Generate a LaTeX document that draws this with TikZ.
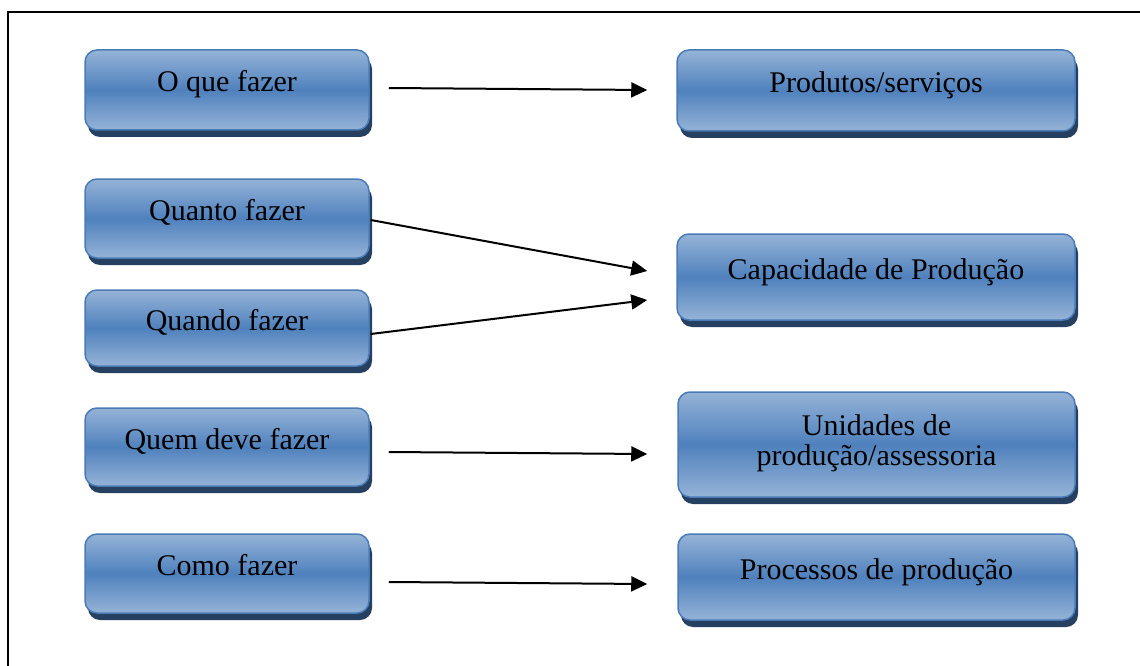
\documentclass[tikz,border=0pt]{standalone}
\usepackage{fontspec}
\setmainfont{Liberation Serif}
\usetikzlibrary{arrows.meta,shadows}
\definecolor{boxlight}{HTML}{95B3D7}
\definecolor{boxdark}{HTML}{4F81BD}
\definecolor{boxedge}{HTML}{4A7BB7}
\definecolor{boxshadow}{HTML}{254061}
\tikzset{
  bluebox/.style={draw=boxedge, line width=1.5pt, rounded corners=12pt,
    top color=boxlight, bottom color=boxlight, middle color=boxdark,
    drop shadow={shadow xshift=3pt, shadow yshift=-7pt, fill=boxshadow, opacity=1},
    inner sep=0pt, align=center, text height=21pt, text depth=17pt,
    font=\fontsize{30}{30}\selectfont},
  arr/.style={line width=2pt, -{Triangle[length=16pt,width=15pt]}},
  frameline/.style={line width=2pt}
}
\begin{document}
\begin{tikzpicture}[x=1pt,y=-1pt]
\useasboundingbox (0,0) rectangle (1140,666);
\draw[frameline] (8,700) -- (8,12) -- (1150,12);
% left column
\node[bluebox, minimum width=284pt, minimum height=80pt] (b1) at (227,90) {O que fazer};
\node[bluebox, minimum width=284pt, minimum height=79pt] (b3) at (227,218.5) {Quanto fazer};
\node[bluebox, minimum width=284pt, minimum height=76pt] (b5) at (227,328) {Quando fazer};
\node[bluebox, minimum width=284pt, minimum height=78pt] (b6) at (227,447) {Quem deve fazer};
\node[bluebox, minimum width=284pt, minimum height=79pt] (b8) at (227,573.5) {Como fazer};
% right column
\node[bluebox, minimum width=398pt, minimum height=81pt] (b2) at (876,90.5) {Produtos/serviços};
\node[bluebox, minimum width=398pt, minimum height=86pt] (b4) at (876,277) {Capacidade de Produção};
\node[bluebox, minimum width=397pt, minimum height=105pt, text height=51pt, text depth=10pt] (b7) at (876.5,444.5) {Unidades de\\produção/assessoria};
\node[bluebox, minimum width=397pt, minimum height=86pt] (b9) at (876.5,577) {Processos de produção};
% arrows
\draw[arr] ([shift={(19,-2)}]b1.east) -- ([shift={(-29,-0.5)}]b2.west);
\draw[arr] ([shift={(1,1.5)}]b3.east) -- ([shift={(-29,-6)}]b4.west);
\draw[arr] ([shift={(1,6)}]b5.east) -- ([shift={(-29,23)}]b4.west);
\draw[arr] ([shift={(19,5)}]b6.east) -- ([shift={(-30,9.5)}]b7.west);
\draw[arr] ([shift={(19,8.5)}]b8.east) -- ([shift={(-30,7)}]b9.west);
\end{tikzpicture}
\end{document}
